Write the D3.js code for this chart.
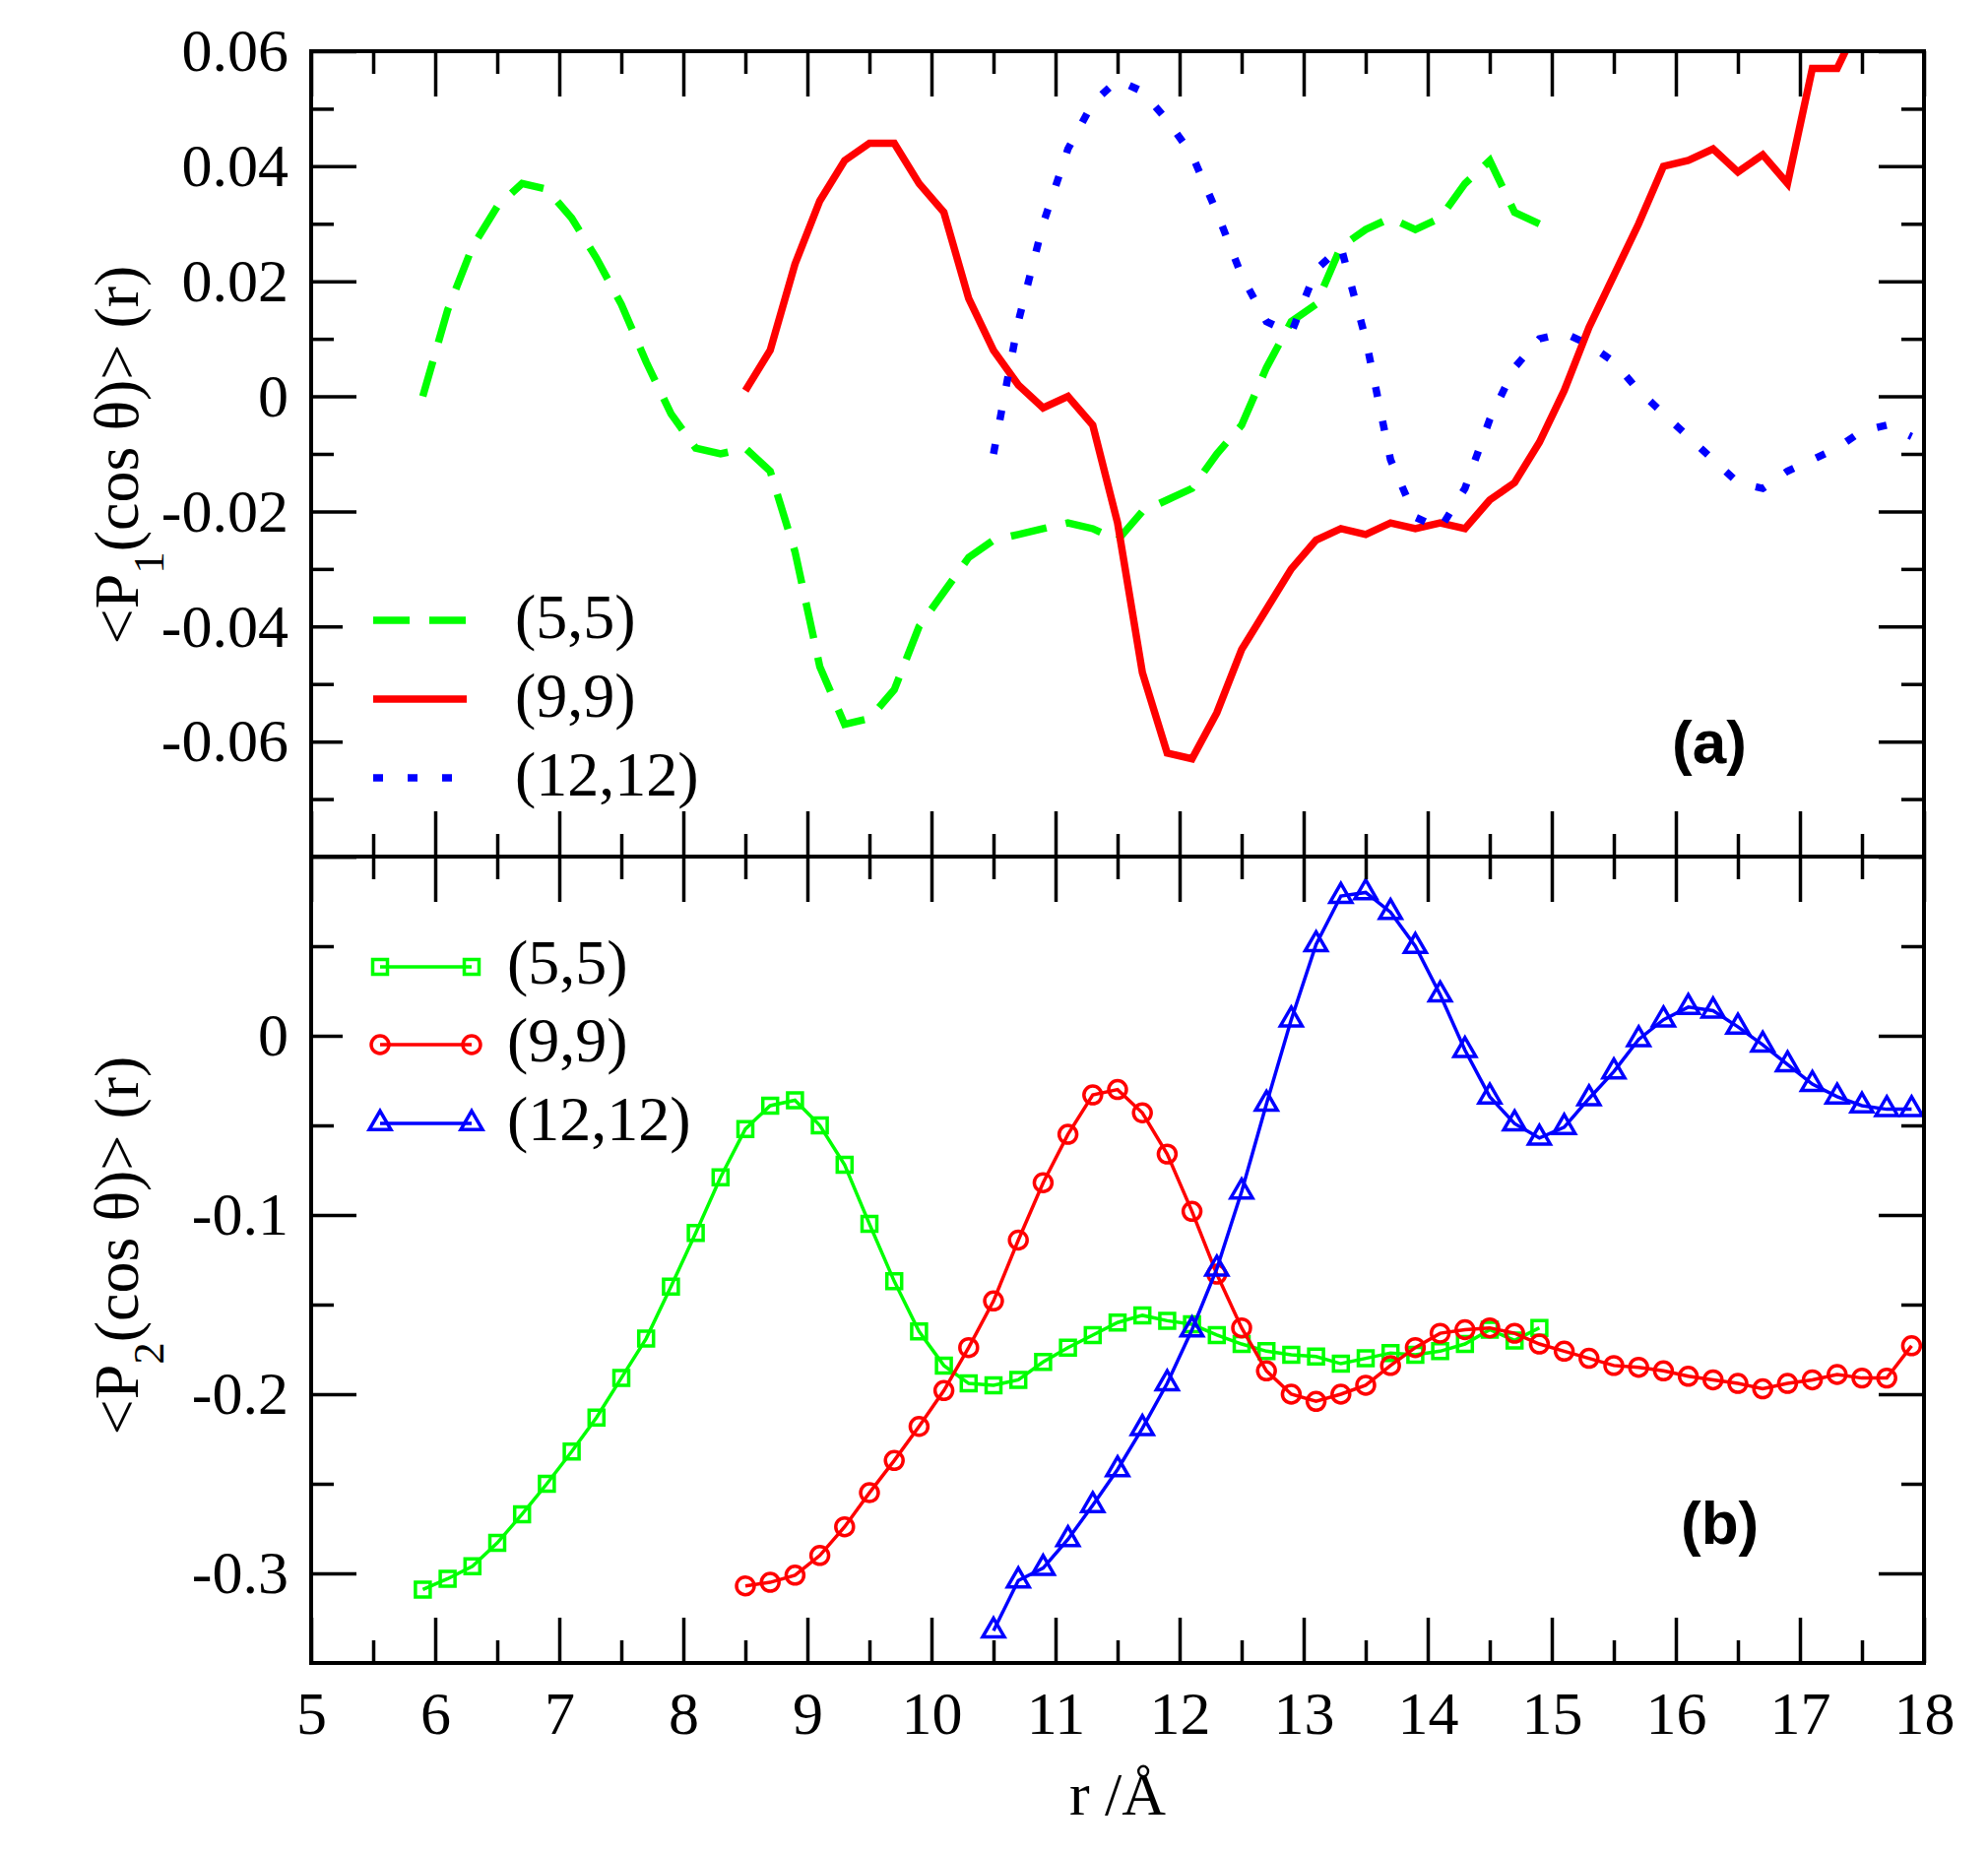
<!DOCTYPE html>
<html>
<head>
<meta charset="utf-8">
<script src="https://cdn.jsdelivr.net/npm/d3@7"></script>
<style>
    body { margin: 0; background: #fff; }
</style>
</head>
<body>
<svg id="chart"></svg>
<script>
// panel (a): <P1(cos θ)>
const p1R55 = [5.9, 6.1, 6.3, 6.5, 6.7, 6.9, 7.1, 7.3, 7.5, 7.7, 7.9, 8.1, 8.3, 8.5, 8.7, 8.9, 9.1, 9.3, 9.5, 9.7, 9.9,
    10.1, 10.3, 10.5, 10.7, 10.9, 11.1, 11.3, 11.5, 11.7, 11.9, 12.1, 12.3, 12.5, 12.7, 12.9, 13.1, 13.3, 13.5, 13.7, 13.9,
    14.1, 14.3, 14.5, 14.7, 14.9];
const p1V55 = [0.000, 0.015, 0.026, 0.033, 0.037, 0.036, 0.031, 0.024, 0.016, 0.006, -0.003, -0.009, -0.010, -0.009, -0.013,
    -0.027, -0.047, -0.057, -0.056, -0.051, -0.040, -0.034, -0.028, -0.025, -0.024, -0.023, -0.022, -0.023, -0.025, -0.020,
    -0.018, -0.016, -0.010, -0.005, 0.005, 0.013, 0.016, 0.026, 0.029, 0.031, 0.029, 0.031, 0.037, 0.041, 0.032, 0.030];

const p1R99 = [8.5, 8.7, 8.9, 9.1, 9.3, 9.5, 9.7, 9.9, 10.1, 10.3, 10.5, 10.7, 10.9, 11.1, 11.3, 11.5, 11.7, 11.9, 12.1, 12.3,
    12.5, 12.7, 12.9, 13.1, 13.3, 13.5, 13.7, 13.9, 14.1, 14.3, 14.5, 14.7, 14.9, 15.1, 15.3, 15.5, 15.7, 15.9, 16.1, 16.3,
    16.5, 16.7, 16.9, 17.1, 17.3, 17.5];
const p1V99 = [0.001, 0.008, 0.023, 0.034, 0.041, 0.044, 0.044, 0.037, 0.032, 0.017, 0.008, 0.002, -0.002, 0.000, -0.005,
    -0.022, -0.048, -0.062, -0.063, -0.055, -0.044, -0.037, -0.030, -0.025, -0.023, -0.024, -0.022, -0.023, -0.022, -0.023,
    -0.018, -0.015, -0.008, 0.001, 0.012, 0.021, 0.030, 0.040, 0.041, 0.043, 0.039, 0.042, 0.037, 0.057, 0.057, 0.066];

const p1R1212 = [10.5, 10.7, 10.9, 11.1, 11.3, 11.5, 11.7, 11.9, 12.1, 12.3, 12.5, 12.7, 12.9, 13.1, 13.3, 13.5, 13.7, 13.9,
    14.1, 14.3, 14.5, 14.7, 14.9, 15.1, 15.3, 15.5, 15.7, 15.9, 16.1, 16.3, 16.5, 16.7, 16.9, 17.1, 17.3, 17.5, 17.7, 17.9];
const p1V1212 = [-0.010, 0.013, 0.030, 0.043, 0.051, 0.055, 0.053, 0.048, 0.042, 0.032, 0.021, 0.013, 0.011, 0.022, 0.026,
    0.010, -0.011, -0.021, -0.023, -0.016, -0.004, 0.005, 0.010, 0.011, 0.009, 0.006, 0.001, -0.003, -0.007, -0.011, -0.015,
    -0.016, -0.013, -0.011, -0.009, -0.006, -0.005, -0.007];

// panel (b): <P2(cos θ)>
const p2R55 = p1R55;
const p2V55 = [-0.309, -0.303, -0.296, -0.283, -0.267, -0.250, -0.232, -0.213, -0.191, -0.169, -0.140, -0.110, -0.079,
    -0.052, -0.039, -0.036, -0.050, -0.072, -0.105, -0.137, -0.165, -0.184, -0.194, -0.195, -0.192, -0.182, -0.174, -0.167,
    -0.160, -0.156, -0.159, -0.161, -0.167, -0.172, -0.176, -0.178, -0.179, -0.183, -0.180, -0.177, -0.178, -0.176, -0.172,
    -0.164, -0.170, -0.163];

const p2R99 = [8.5, 8.7, 8.9, 9.1, 9.3, 9.5, 9.7, 9.9, 10.1, 10.3, 10.5, 10.7, 10.9, 11.1, 11.3, 11.5, 11.7, 11.9, 12.1, 12.3,
    12.5, 12.7, 12.9, 13.1, 13.3, 13.5, 13.7, 13.9, 14.1, 14.3, 14.5, 14.7, 14.9, 15.1, 15.3, 15.5, 15.7, 15.9, 16.1, 16.3,
    16.5, 16.7, 16.9, 17.1, 17.3, 17.5, 17.7, 17.9];
const p2V99 = [-0.307, -0.305, -0.301, -0.290, -0.274, -0.255, -0.237, -0.218, -0.198, -0.174, -0.148, -0.114, -0.082,
    -0.055, -0.033, -0.030, -0.043, -0.066, -0.098, -0.133, -0.163, -0.187, -0.200, -0.204, -0.200, -0.195, -0.184, -0.174,
    -0.166, -0.164, -0.163, -0.166, -0.172, -0.176, -0.180, -0.184, -0.185, -0.187, -0.190, -0.192, -0.194, -0.197, -0.194,
    -0.192, -0.189, -0.191, -0.191, -0.173];

const p2R1212 = p1R1212;
const p2V1212 = [-0.332, -0.304, -0.297, -0.281, -0.262, -0.242, -0.219, -0.194, -0.164, -0.130, -0.087, -0.038, 0.009,
    0.051, 0.078, 0.080, 0.069, 0.050, 0.023, -0.008, -0.034, -0.049, -0.057, -0.051, -0.035, -0.020, -0.002, 0.009, 0.016,
    0.014, 0.005, -0.005, -0.016, -0.027, -0.034, -0.039, -0.041, -0.041];

const seriesNames = ["(5,5)", "(9,9)", "(12,12)"];
const seriesColors = ["#00ff00", "#ff0000", "#0000ff"];

// ticks
const xMajor = [5, 6, 7, 8, 9, 10, 11, 12, 13, 14, 15, 16, 17, 18];
const xMinor = [5.5, 6.5, 7.5, 8.5, 9.5, 10.5, 11.5, 12.5, 13.5, 14.5, 15.5, 16.5, 17.5];
const xLabels = ["5", "6", "7", "8", "9", "10", "11", "12", "13", "14", "15", "16", "17", "18"];
const y1Major = [-0.08, -0.06, -0.04, -0.02, 0, 0.02, 0.04, 0.06];
const y1Minor = [-0.07, -0.05, -0.03, -0.01, 0.01, 0.03, 0.05];
const y1Labels = ["", "-0.06", "-0.04", "-0.02", "0", "0.02", "0.04", "0.06"];
const y2Major = [-0.3, -0.2, -0.1, 0, 0.1];
const y2Minor = [-0.25, -0.15, -0.05, 0.05];
const y2Labels = ["-0.3", "-0.2", "-0.1", "0", ""];

const W = 2019, H = 1882;
const serif = "'Liberation Serif', 'Times New Roman', serif";
const sans = "'Liberation Sans', Arial, sans-serif";

const svg = d3.select("#chart").attr("width", W).attr("height", H);

const x = d3.scaleLinear().domain([5, 18]).range([316, 1954]);
const y1 = d3.scaleLinear().domain([-0.08, 0.06]).range([870, 52]);
const y2 = d3.scaleLinear().domain([-0.35, 0.1]).range([1689, 870]);

// clip paths for the two panels
const defs = svg.append("defs");
[["clipA", y1], ["clipB", y2]].forEach(([id, y]) => {
    defs.append("clipPath").attr("id", id).append("rect")
        .attr("x", x(5)).attr("y", y.range()[1])
        .attr("width", x(18) - x(5)).attr("height", y.range()[0] - y.range()[1]);
});

// ---- panel (a) lines
const topSeries = [
    {r: p1R55, v: p1V55, dash: "37,20"},
    {r: p1R99, v: p1V99, dash: null},
    {r: p1R1212, v: p1V1212, dash: "10,25"}
];
const lineA = d3.line().x(d => x(d[0])).y(d => y1(d[1]));
const gA = svg.append("g").attr("clip-path", "url(#clipA)");
topSeries.forEach((s, i) => {
    gA.append("path")
        .datum(d3.zip(s.r, s.v))
        .attr("d", lineA)
        .attr("fill", "none")
        .attr("stroke", seriesColors[i])
        .attr("stroke-width", 7.5)
        .attr("stroke-dasharray", s.dash)
        .attr("stroke-linejoin", "miter");
});

// ---- panel (b) lines with symbols
const bottomSeries = [
    {r: p2R55, v: p2V55, sym: d3.symbolSquare, size: 225},
    {r: p2R99, v: p2V99, sym: d3.symbolCircle, size: 254},
    {r: p2R1212, v: p2V1212, sym: d3.symbolTriangle, size: 210}
];
const lineB = d3.line().x(d => x(d[0])).y(d => y2(d[1]));
const gB = svg.append("g").attr("clip-path", "url(#clipB)");
bottomSeries.forEach((s, i) => {
    const pts = d3.zip(s.r, s.v);
    gB.append("path")
        .datum(pts)
        .attr("d", lineB)
        .attr("fill", "none")
        .attr("stroke", seriesColors[i])
        .attr("stroke-width", 3.5);
    gB.selectAll(".sym" + i)
        .data(pts)
        .enter().append("path")
        .attr("class", "sym" + i)
        .attr("d", d3.symbol().type(s.sym).size(s.size))
        .attr("transform", d => `translate(${x(d[0])},${y2(d[1])})`)
        .attr("fill", "none")
        .attr("stroke", seriesColors[i])
        .attr("stroke-width", 3.5);
});

// ---- ticks (all pointing inwards)
function tickAxis(axisFn, scale, values, len, transform) {
    const g = svg.append("g").attr("transform", transform)
        .call(axisFn(scale).tickValues(values).tickSizeInner(-len).tickSizeOuter(0).tickFormat(""));
    g.select(".domain").remove();
    g.selectAll("line").attr("stroke", "#000").attr("stroke-width", 3.5);
    return g;
}

[[y1, y1Major, y1Minor], [y2, y2Major, y2Minor]].forEach(([y, major, minor]) => {
    const yTop = y.range()[1], yBot = y.range()[0];
    tickAxis(d3.axisLeft, y, major, 46, `translate(${x(5)},0)`);
    tickAxis(d3.axisLeft, y, minor, 23, `translate(${x(5)},0)`);
    tickAxis(d3.axisRight, y, major, 46, `translate(${x(18)},0)`);
    tickAxis(d3.axisRight, y, minor, 23, `translate(${x(18)},0)`);
    tickAxis(d3.axisBottom, x, xMajor, 46, `translate(0,${yBot})`);
    tickAxis(d3.axisBottom, x, xMinor, 23, `translate(0,${yBot})`);
    tickAxis(d3.axisTop, x, xMajor, 46, `translate(0,${yTop})`);
    tickAxis(d3.axisTop, x, xMinor, 23, `translate(0,${yTop})`);
});

// frames
[y1, y2].forEach(y => {
    svg.append("rect")
        .attr("x", x(5)).attr("y", y.range()[1])
        .attr("width", x(18) - x(5)).attr("height", y.range()[0] - y.range()[1])
        .attr("fill", "none").attr("stroke", "#000").attr("stroke-width", 4);
});

// ---- tick labels
function labelAxis(axisFn, scale, values, labels, pad, transform) {
    const g = svg.append("g").attr("transform", transform)
        .call(axisFn(scale).tickValues(values).tickSize(0).tickPadding(pad)
            .tickFormat((d, i) => labels[i]));
    g.select(".domain").remove();
    g.attr("font-family", null).attr("font-size", null);
    g.selectAll("text").attr("font-family", serif).attr("font-size", 62).attr("fill", "#000");
}
labelAxis(d3.axisLeft, y1, y1Major, y1Labels, 23, `translate(${x(5)},0)`);
labelAxis(d3.axisLeft, y2, y2Major, y2Labels, 23, `translate(${x(5)},0)`);
labelAxis(d3.axisBottom, x, xMajor, xLabels, 28, `translate(0,${y2.range()[0]})`);

// ---- axis titles
svg.append("text")
    .attr("x", (x(5) + x(18)) / 2).attr("y", 1843)
    .attr("text-anchor", "middle")
    .attr("font-family", serif).attr("font-size", 62)
    .text("r /Å");

function yTitle(cy, sub) {
    const t = svg.append("text")
        .attr("transform", `translate(140,${cy}) rotate(-90)`)
        .attr("text-anchor", "middle")
        .attr("font-family", serif).attr("font-size", 64);
    t.append("tspan").text("<P");
    t.append("tspan").attr("dy", 26).attr("font-size", 45).text(sub);
    t.append("tspan").attr("dy", -26).text("(cos θ)> (r)");
}
yTitle(462, "1");
yTitle(1265, "2");

// ---- legends (white box hides the tick marks under it)
const legA = [630, 710, 790];
const legB = [982, 1061, 1141];

svg.append("rect").attr("x", 348).attr("y", 590).attr("width", 380).attr("height", 225).attr("fill", "#fff");
svg.append("rect").attr("x", 348).attr("y", 940).attr("width", 370).attr("height", 170).attr("fill", "#fff");

topSeries.forEach((s, i) => {
    svg.append("line")
        .attr("x1", 379).attr("x2", 474)
        .attr("y1", legA[i]).attr("y2", legA[i])
        .attr("stroke", seriesColors[i]).attr("stroke-width", 7.5)
        .attr("stroke-dasharray", s.dash);
    svg.append("text")
        .attr("x", 523).attr("y", legA[i] + 18)
        .attr("font-family", serif).attr("font-size", 64)
        .text(seriesNames[i]);
});

bottomSeries.forEach((s, i) => {
    svg.append("line")
        .attr("x1", 386).attr("x2", 479)
        .attr("y1", legB[i]).attr("y2", legB[i])
        .attr("stroke", seriesColors[i]).attr("stroke-width", 3.5);
    [386, 479].forEach(px => {
        svg.append("path")
            .attr("d", d3.symbol().type(s.sym).size(s.size))
            .attr("transform", `translate(${px},${legB[i]})`)
            .attr("fill", "none").attr("stroke", seriesColors[i]).attr("stroke-width", 3.5);
    });
    svg.append("text")
        .attr("x", 515).attr("y", legB[i] + 17)
        .attr("font-family", serif).attr("font-size", 64)
        .text(seriesNames[i]);
});

// panel tags
svg.append("text").attr("x", 1698).attr("y", 775)
    .attr("font-family", sans).attr("font-weight", "bold").attr("font-size", 62)
    .text("(a)");
svg.append("text").attr("x", 1707).attr("y", 1568)
    .attr("font-family", sans).attr("font-weight", "bold").attr("font-size", 62)
    .text("(b)");
</script>
</body>
</html>
